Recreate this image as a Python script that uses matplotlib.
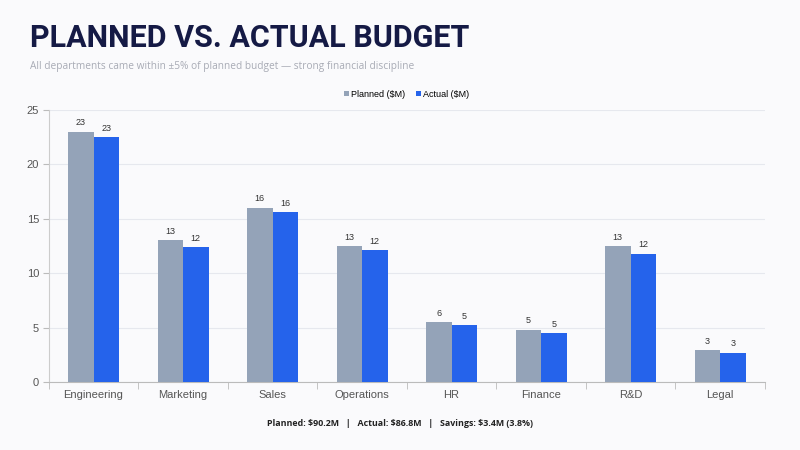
import numpy as np
import matplotlib
matplotlib.use("Agg")
import matplotlib.pyplot as plt

# budget by department ($M)
departments = ["Engineering", "Marketing", "Sales", "Operations", "HR", "Finance", "R&D", "Legal"]
planned = [23.0, 13.0, 16.0, 12.5, 5.5, 4.8, 12.5, 2.9]
actual = [22.5, 12.4, 15.6, 12.1, 5.2, 4.5, 11.8, 2.7]
yticks = [0, 5, 10, 15, 20, 25]

bg = "#fafafc"
c_plan = "#94a3b8"
c_act = "#2563eb"

fig = plt.figure(figsize=(8, 4.5), dpi=100, facecolor=bg)
ax = fig.add_axes([0.061, 0.151, 0.895, 0.605], facecolor=bg)

x = np.arange(len(departments))
w = 0.285
b1 = ax.bar(x - w/2, planned, w, color=c_plan, label="Planned ($M)", zorder=3)
b2 = ax.bar(x + w/2, actual, w, color=c_act, label="Actual ($M)", zorder=3)

for bars in (b1, b2):
    for r in bars:
        h = r.get_height()
        ax.text(r.get_x() + r.get_width()/2, h + 0.4, "%d" % int(np.floor(h + 0.5)),
                ha="center", va="bottom", fontsize=6.5, color="#333333",
                family="Liberation Sans")

ax.set_xlim(-0.5, len(departments) - 0.5)
ax.set_ylim(0, 25)
ax.set_yticks(yticks)
ax.yaxis.grid(True, color="#e6e8ee", linewidth=0.8, zorder=0)
ax.set_xticks(x)
ax.set_xticklabels(departments)
ax.set_xticks(np.arange(-0.5, len(departments)), minor=True)
ax.tick_params(axis="x", which="major", length=0, pad=6, labelsize=8, labelcolor="#555555")
ax.tick_params(axis="x", which="minor", length=5, color="#bbbbbb")
ax.tick_params(axis="y", length=4, color="#bbbbbb", labelsize=8, labelcolor="#555555", pad=3)
for lab in ax.get_xticklabels() + ax.get_yticklabels():
    lab.set_family("Liberation Sans")
for s in ["top", "right"]:
    ax.spines[s].set_visible(False)
ax.spines["left"].set_color("#cccccc")
ax.spines["bottom"].set_color("#bbbbbb")

leg = ax.legend(loc="lower center", bbox_to_anchor=(0.5, 1.01), ncol=2, frameon=False,
                handlelength=0.5, handleheight=0.5, handletextpad=0.3,
                columnspacing=1.2, prop={"family": "Liberation Sans", "size": 6.5})

fig.text(0.037, 0.916, "PLANNED VS. ACTUAL BUDGET", fontsize=22, fontweight="bold",
         color="#151a45", family="Roboto", va="center")
fig.text(0.038, 0.853, "All departments came within \u00b15% of planned budget \u2014 strong financial discipline",
         fontsize=7.3, color="#a8abb5", family="Open Sans", va="center")
fig.text(0.5, 0.06, "Planned: $90.2M   |   Actual: $86.8M   |   Savings: $3.4M (3.8%)",
         fontsize=6.4, fontweight="bold", color="#222222", family="Open Sans", ha="center", va="center")

fig.savefig("out.png", dpi=100, facecolor=bg)
